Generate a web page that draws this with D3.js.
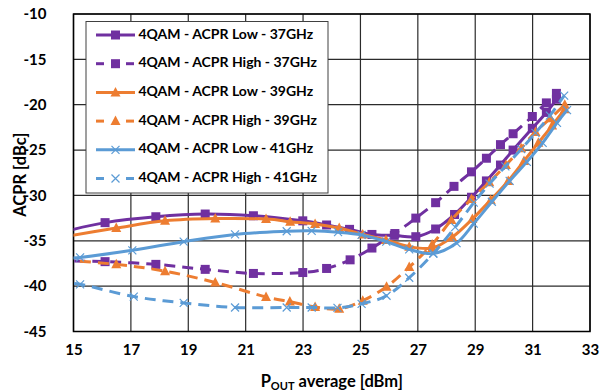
<!DOCTYPE html>
<html>
<head>
<meta charset="utf-8">
<script src="https://cdn.jsdelivr.net/npm/d3@7"></script>
<style>
  body { margin: 0; background: #fff; }
  svg text { font-family: Lato, "Open Sans", sans-serif; font-weight: bold; fill: #000; }
</style>
</head>
<body>
<div id="chart"></div>
<script>
// ---- data ----
const xTicks = [15, 17, 19, 21, 23, 25, 27, 29, 31, 33];
const yTicks = [-10, -15, -20, -25, -30, -35, -40, -45];

const low37 = [[14.4, -34.2], [16.1, -33.0], [17.87, -32.35], [19.59, -32.05], [21.27, -32.24], [22.99, -32.8],
  [23.82, -33.26], [24.62, -33.74], [25.4, -34.3], [26.18, -34.4], [26.93, -34.55], [27.62, -33.7],
  [28.28, -32.1], [28.87, -30.2], [29.39, -28.4], [29.88, -26.65], [30.32, -25.0], [30.99, -22.6],
  [31.48, -20.85], [31.83, -19.4]];
const high37 = [[14.4, -37.2], [16.1, -37.3], [17.87, -37.6], [19.59, -38.15], [21.27, -38.6], [22.99, -38.5],
  [23.82, -38.05], [24.64, -37.1], [25.4, -35.8], [26.2, -34.2], [26.93, -32.5], [27.62, -30.8],
  [28.26, -29.0], [28.87, -27.4], [29.39, -25.9], [29.88, -24.4], [30.32, -23.2], [30.99, -21.3],
  [31.48, -19.8], [31.83, -18.75]];
const low39 = [[14.6, -34.6], [16.49, -33.6], [18.19, -32.8], [19.94, -32.55], [21.71, -32.6], [22.55, -32.9],
  [23.42, -33.15], [24.26, -33.6], [25.08, -34.3], [25.89, -34.9], [26.7, -35.65], [27.5, -35.8],
  [28.2, -34.6], [28.9, -32.6], [29.54, -30.5], [30.15, -28.4], [30.7, -26.2], [31.2, -24.2],
  [31.68, -22.3], [32.12, -20.5]];
const high39 = [[14.6, -37.1], [16.49, -37.6], [18.19, -38.35], [19.94, -39.6], [21.71, -41.2], [22.54, -41.7],
  [23.42, -42.3], [24.26, -42.5], [25.08, -41.6], [25.91, -40.07], [26.7, -37.9], [27.5, -35.4],
  [28.17, -32.7], [28.87, -30.4], [29.49, -28.55], [30.07, -26.65], [30.6, -24.8], [31.1, -23.0],
  [31.62, -21.5], [32.12, -20.0]];
const low41 = [[14.4, -37.0], [15.23, -36.83], [17.05, -36.05], [18.84, -35.1], [20.63, -34.3], [22.43, -33.95],
  [23.3, -33.9], [24.22, -34.05], [25.04, -34.35], [25.9, -35.1], [26.7, -35.95], [27.54, -36.4],
  [28.35, -35.25], [28.95, -33.1], [29.58, -30.7], [30.2, -28.4], [30.8, -26.3], [31.35, -24.2],
  [31.85, -22.0], [32.2, -20.6]];
const high41 = [[14.4, -39.7], [15.23, -39.8], [17.1, -41.15], [18.84, -41.85], [20.63, -42.35], [22.43, -42.35],
  [23.3, -42.35], [24.2, -42.4], [25.04, -41.95], [25.91, -41.06], [26.7, -39.07], [27.54, -36.4],
  [28.3, -33.5], [28.95, -30.8], [29.5, -28.7], [30.05, -26.8], [30.6, -24.9], [31.1, -23.1],
  [31.6, -21.2], [32.1, -19.0]];

const seriesNames = ["4QAM - ACPR Low - 37GHz", "4QAM - ACPR High - 37GHz",
  "4QAM - ACPR Low - 39GHz", "4QAM - ACPR High - 39GHz",
  "4QAM - ACPR Low - 41GHz", "4QAM - ACPR High - 41GHz"];
const seriesData = [low37, high37, low39, high39, low41, high41];
const seriesColors = ["#7030A0", "#7030A0", "#ED7D31", "#ED7D31", "#5B9BD5", "#5B9BD5"];
const seriesDashed = [false, true, false, true, false, true];
const seriesMarker = ["square", "square", "triangle", "triangle", "cross", "cross"];

// ---- layout ----
const W = 612, H = 392;
const plot = { left: 73.5, right: 590, top: 14, bottom: 331.5 };

const svg = d3.select("#chart").append("svg")
  .attr("width", W)
  .attr("height", H);

const x = d3.scaleLinear().domain([15, 33]).range([plot.left, plot.right]);
const y = d3.scaleLinear().domain([-45, -10]).range([plot.bottom, plot.top]);

svg.append("defs").append("clipPath").attr("id", "clip")
  .append("rect")
  .attr("x", plot.left).attr("y", plot.top)
  .attr("width", plot.right - plot.left).attr("height", plot.bottom - plot.top);

// grid
svg.append("g")
  .selectAll("line.v")
  .data(xTicks)
  .join("line")
  .attr("x1", d => x(d)).attr("x2", d => x(d))
  .attr("y1", plot.top).attr("y2", plot.bottom)
  .attr("stroke", "#2b2b2b").attr("stroke-width", 1.2);
svg.append("g")
  .selectAll("line.h")
  .data(yTicks)
  .join("line")
  .attr("x1", plot.left).attr("x2", plot.right)
  .attr("y1", d => y(d)).attr("y2", d => y(d))
  .attr("stroke", "#2b2b2b").attr("stroke-width", 1.2);

// border
svg.append("rect")
  .attr("x", plot.left).attr("y", plot.top)
  .attr("width", plot.right - plot.left).attr("height", plot.bottom - plot.top)
  .attr("fill", "none").attr("stroke", "#000").attr("stroke-width", 1.5);

// axes (labels only)
const xAxis = svg.append("g")
  .attr("transform", `translate(0,${plot.bottom + 10})`)
  .call(d3.axisBottom(x).tickValues(xTicks).tickSize(0).tickFormat(d3.format("d")));
xAxis.select(".domain").remove();
xAxis.selectAll("text").style("font-size", "15px").attr("dy", "0.71em");

const yAxis = svg.append("g")
  .attr("transform", `translate(${plot.left - 24},0)`)
  .call(d3.axisLeft(y).tickValues(yTicks).tickSize(0).tickFormat(d => d3.format("d")(d).replace("−", "-")));
yAxis.select(".domain").remove();
yAxis.selectAll("text").style("font-size", "15px");

// axis titles
svg.append("text")
  .attr("transform", `translate(22,${(plot.top + plot.bottom) / 2 + 2}) rotate(-90)`)
  .attr("text-anchor", "middle")
  .attr("dominant-baseline", "middle")
  .style("font-size", "16.5px")
  .text("ACPR [dBc]");

const xt = svg.append("text")
  .attr("x", (plot.left + plot.right) / 2)
  .attr("y", 387)
  .attr("text-anchor", "middle")
  .style("font-size", "16.5px");
xt.append("tspan").text("P");
xt.append("tspan").attr("dy", 3).style("font-size", "11px").text("OUT");
xt.append("tspan").attr("dy", -3).text(" average [dBm]");

// marker drawing helper
function drawMarker(g, type, color, cx, cy) {
  if (type === "square") {
    g.append("rect")
      .attr("x", cx - 4.5).attr("y", cy - 4.5)
      .attr("width", 9).attr("height", 9)
      .attr("fill", color);
  } else if (type === "triangle") {
    g.append("path")
      .attr("d", `M${cx},${cy - 5.5}L${cx + 5},${cy + 4}L${cx - 5},${cy + 4}Z`)
      .attr("fill", color);
  } else {
    g.append("path")
      .attr("d", `M${cx - 4},${cy - 4}L${cx + 4},${cy + 4}M${cx - 4},${cy + 4}L${cx + 4},${cy - 4}`)
      .attr("stroke", color).attr("stroke-width", 1.2).attr("fill", "none");
  }
}

const line = d3.line()
  .x(d => x(d[0]))
  .y(d => y(d[1]))
  .curve(d3.curveCardinal.tension(0));

const plotG = svg.append("g").attr("clip-path", "url(#clip)");

seriesData.forEach((data, i) => {
  const g = plotG.append("g");
  g.append("path")
    .datum(data)
    .attr("fill", "none")
    .attr("stroke", seriesColors[i])
    .attr("stroke-width", 3)
    .attr("stroke-dasharray", seriesDashed[i] ? "11,7" : null)
    .attr("d", line);
  data.forEach(d => drawMarker(g, seriesMarker[i], seriesColors[i], x(d[0]), y(d[1])));
});

// legend
const legend = svg.append("g");
legend.append("rect")
  .attr("x", 86).attr("y", 21.5)
  .attr("width", 242).attr("height", 171.5)
  .attr("fill", "#fff").attr("stroke", "#404040").attr("stroke-width", 1);

seriesNames.forEach((name, i) => {
  const ly = 35 + i * 28.7;
  const row = legend.append("g");
  if (seriesDashed[i]) {
    row.append("line").attr("x1", 96).attr("x2", 104).attr("y1", ly).attr("y2", ly)
      .attr("stroke", seriesColors[i]).attr("stroke-width", 3);
    row.append("line").attr("x1", 126).attr("x2", 134).attr("y1", ly).attr("y2", ly)
      .attr("stroke", seriesColors[i]).attr("stroke-width", 3);
  } else {
    row.append("line").attr("x1", 96).attr("x2", 135).attr("y1", ly).attr("y2", ly)
      .attr("stroke", seriesColors[i]).attr("stroke-width", 3);
  }
  drawMarker(row, seriesMarker[i], seriesColors[i], 115.5, ly);
  row.append("text")
    .attr("x", 138.5).attr("y", ly)
    .attr("dominant-baseline", "middle")
    .style("font-size", "14px")
    .text(name);
});
</script>
</body>
</html>
